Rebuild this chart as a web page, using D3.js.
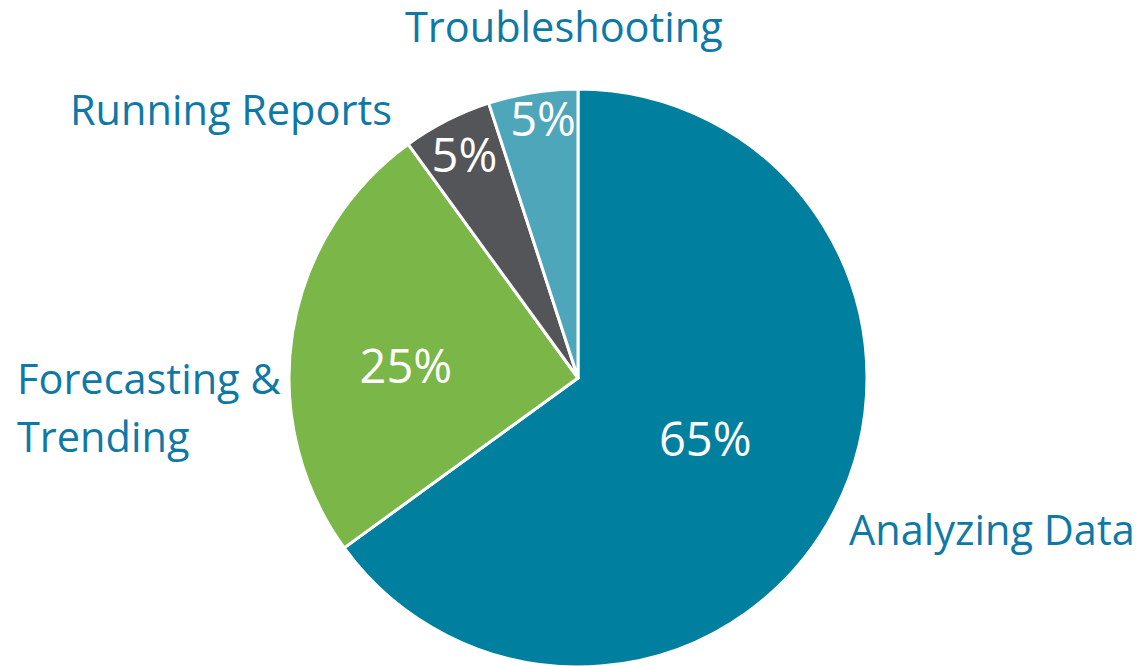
<!DOCTYPE html>
<html><head><meta charset="utf-8">
<script src="https://cdn.jsdelivr.net/npm/d3@7"></script>
<style>html,body{margin:0;padding:0;background:#fff;}svg{display:block;}</style>
</head><body>
<svg id="c" width="1139" height="666"></svg>
<script>
const categories = ["Analyzing Data", "Forecasting & Trending", "Running Reports", "Troubleshooting"];
const values = [65, 25, 5, 5];
const colors = ["#00809e", "#7ab648", "#535559", "#4ea6bb"];
const labelLines = [["Analyzing Data"], ["Forecasting &", "Trending"], ["Running Reports"], ["Troubleshooting"]];

const svg = d3.select("#c");
const cx = 578, cy = 378, R = 289;
const g = svg.append("g").attr("transform", `translate(${cx},${cy})`);
const pie = d3.pie().sort(null).value(d => d)(values);
const arc = d3.arc().innerRadius(0).outerRadius(R);

g.selectAll("path").data(pie).join("path")
  .attr("d", arc)
  .attr("fill", (d, i) => colors[i])
  .attr("stroke", "#fff").attr("stroke-width", 3).attr("stroke-linejoin", "round");

const font = "'Open Sans', sans-serif";
// percentage labels: radius fraction and small angle nudge (degrees) per slice
const pctR = [0.488, 0.597, 0.866, 0.904];
const pctNudge = [-1.4, -5, 0, 1.3];
g.selectAll("text.pct").data(pie).join("text")
  .attr("class", "pct")
  .attr("transform", (d, i) => {
    const a = (d.startAngle + d.endAngle) / 2 + pctNudge[i] * Math.PI / 180;
    const r = R * pctR[i];
    return `translate(${Math.sin(a) * r},${-Math.cos(a) * r})`;
  })
  .attr("text-anchor", "middle").attr("dy", "0.36em")
  .attr("fill", "#fff").attr("font-family", font).attr("font-size", 47)
  .text(d => d.value + "%");

// outside category labels
const labelPos = [
  {x: 849, y: 545, anchor: "start"},
  {x: 17, y: 394, anchor: "start"},
  {x: 70, y: 125, anchor: "start"},
  {x: 405, y: 42, anchor: "start"}
];
const lblColor = "#0f79a6";
labelLines.forEach((lines, i) => {
  const t = svg.append("text")
    .attr("x", labelPos[i].x).attr("y", labelPos[i].y)
    .attr("text-anchor", labelPos[i].anchor)
    .attr("fill", lblColor).attr("font-family", font).attr("font-size", 41.5);
  lines.forEach((ln, j) => {
    t.append("tspan").attr("x", labelPos[i].x).attr("dy", j === 0 ? 0 : 58).text(ln);
  });
});
</script>
</body></html>
